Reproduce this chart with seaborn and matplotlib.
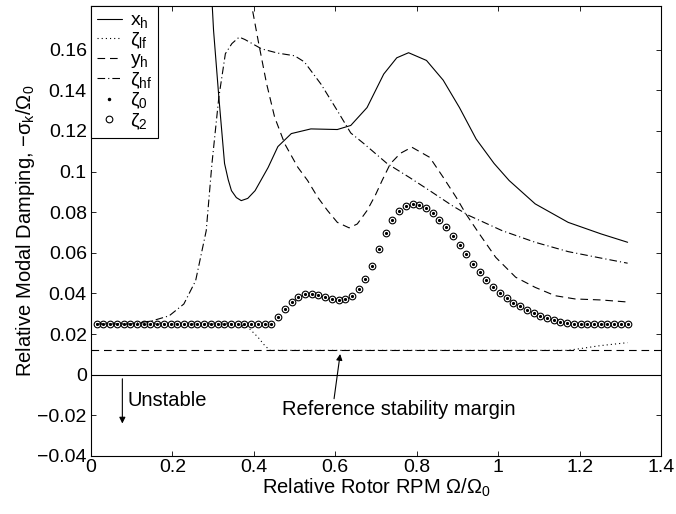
import numpy as np
import matplotlib
matplotlib.use("Agg")
import matplotlib.pyplot as plt
from matplotlib.lines import Line2D
import seaborn as sns

# ---------------- data ----------------
xh_x = [0.285, 0.301, 0.314, 0.328, 0.337, 0.345, 0.357, 0.369, 0.385, 0.403, 0.435, 0.459,
        0.492, 0.540, 0.605, 0.638, 0.678, 0.719, 0.751, 0.780, 0.824, 0.865, 0.905, 0.946,
        0.990, 1.027, 1.091, 1.172, 1.253, 1.318]
xh_y = [0.230, 0.1695, 0.1366, 0.104, 0.096, 0.0906, 0.0872, 0.0857, 0.0868, 0.0906, 0.102, 0.1123,
        0.1187, 0.121, 0.1207, 0.1227, 0.1315, 0.148, 0.156, 0.1585, 0.1547, 0.145, 0.1315, 0.116,
        0.104, 0.0956, 0.0841, 0.075, 0.0693, 0.0652]

yh_x = [0.385, 0.3946, 0.411, 0.431, 0.451, 0.476, 0.508, 0.532, 0.557, 0.581, 0.605, 0.634,
        0.654, 0.678, 0.698, 0.715, 0.735, 0.760, 0.788, 0.832, 0.865, 0.897, 0.921, 0.954,
        0.994, 1.043, 1.091, 1.140, 1.189, 1.253, 1.318]
yh_y = [0.195, 0.1817, 0.164, 0.1435, 0.1268, 0.1136, 0.1021, 0.0956, 0.0873, 0.0808, 0.075, 0.0723,
        0.0742, 0.0808, 0.0882, 0.0956, 0.1038, 0.109, 0.112, 0.107, 0.0972, 0.0873, 0.0791, 0.0693,
        0.0578, 0.048, 0.043, 0.0389, 0.0373, 0.0368, 0.0358]

zhf_x = [0.0138, 0.100, 0.1515, 0.192, 0.228, 0.257, 0.283, 0.297, 0.314, 0.330, 0.346, 0.364,
         0.378, 0.419, 0.459, 0.500, 0.524, 0.565, 0.605, 0.638, 0.670, 0.727, 0.783, 0.832,
         0.889, 0.929, 1.010, 1.091, 1.172, 1.253, 1.318]
zhf_y = [0.025, 0.025, 0.0266, 0.029, 0.0348, 0.0463, 0.0709, 0.1038, 0.1366, 0.158, 0.163, 0.1662,
         0.165, 0.1604, 0.1583, 0.157, 0.154, 0.143, 0.130, 0.119, 0.1138, 0.104, 0.097, 0.0906,
         0.083, 0.0783, 0.0709, 0.0652, 0.0606, 0.0574, 0.0549]

zlf_x = [0.0138, 0.360, 0.386, 0.410, 0.427, 0.440, 1.170, 1.200, 1.250, 1.318]
zlf_y = [0.025, 0.025, 0.0233, 0.0185, 0.0143, 0.012, 0.012, 0.0128, 0.0143, 0.0158]

zeta_x = np.linspace(0.0138, 1.318, 80)
zeta_y = ([0.025] * 27 +
          [0.0282, 0.0323, 0.0358, 0.0384, 0.0396, 0.0396, 0.0391, 0.0381, 0.0373, 0.0368,
           0.0373, 0.0389, 0.042, 0.047, 0.0535, 0.0617, 0.0698, 0.0760, 0.0806, 0.0832,
           0.0840, 0.0837, 0.0823, 0.0796, 0.0764, 0.0725, 0.0682, 0.0638, 0.0593, 0.0547,
           0.0506, 0.0466, 0.0432, 0.0402, 0.0377, 0.0355, 0.0337, 0.0319, 0.0302, 0.0289,
           0.0279, 0.0269, 0.0261, 0.0253] +
          [0.025] * 9)

ref_margin = 0.012
xticks = [0, 0.2, 0.4, 0.6, 0.8, 1.0, 1.2, 1.4]
yticks = [-0.04, -0.02, 0, 0.02, 0.04, 0.06, 0.08, 0.1, 0.12, 0.14, 0.16]
legend_labels = [r'$\mathregular{x_h}$', r'$\mathregular{ζ_{lf}}$', r'$\mathregular{y_h}$',
                 r'$\mathregular{ζ_{hf}}$', r'$\mathregular{ζ_0}$', r'$\mathregular{ζ_2}$']

# ---------------- style ----------------
sns.set_style("ticks")
plt.rcParams['font.family'] = ['Liberation Sans', 'DejaVu Sans']
plt.rcParams['mathtext.fontset'] = 'custom'
plt.rcParams['mathtext.rm'] = 'Liberation Sans'
plt.rcParams['mathtext.it'] = 'Liberation Sans:italic'
plt.rcParams['lines.scale_dashes'] = False
plt.rcParams['axes.linewidth'] = 0.8
plt.rcParams['axes.edgecolor'] = 'k'
plt.rcParams['text.color'] = 'k'
plt.rcParams['axes.labelcolor'] = 'k'
plt.rcParams['xtick.color'] = 'k'
plt.rcParams['ytick.color'] = 'k'

FS = 14.5
TFS = 14
LW = 0.8
DASHED = (0, (5.5, 3.5))
DASHDOT = (0, (5.5, 2.2, 0.8, 2.2))
DOTTED = (0, (0.8, 2.2))

fig = plt.figure(figsize=(6.76, 5.14), dpi=100)
ax = fig.add_axes([91 / 676, 1 - 456 / 514, (661 - 91) / 676, (456 - 6) / 514])

def line(x, y, ls):
    sns.lineplot(x=x, y=y, ax=ax, color='k', lw=LW, estimator=None, sort=False)
    ax.lines[-1].set_linestyle(ls)

line(xh_x, xh_y, '-')
line(zlf_x, zlf_y, DOTTED)
line(yh_x, yh_y, DASHED)
line(zhf_x, zhf_y, DASHDOT)
sns.lineplot(x=zeta_x, y=zeta_y, ax=ax, estimator=None, sort=False, linestyle='',
             marker='.', ms=3, mec='k', mfc='k', color='k')
sns.lineplot(x=zeta_x, y=zeta_y, ax=ax, estimator=None, sort=False, linestyle='',
             marker='o', ms=4.8, mec='k', mfc='none', mew=0.8, color='k')

ax.axhline(0, color='k', lw=LW)
ax.axhline(ref_margin, color='k', lw=LW, linestyle=DASHED)

ax.set_xlim(0, 1.4)
ax.set_ylim(-0.04, 0.1815)
ax.set_xticks(xticks)
ax.set_yticks(yticks)
ax.set_xticklabels([f"{v:g}" for v in xticks])
ax.set_yticklabels([f"{v:g}".replace('-', '\u2212') for v in yticks])
ax.tick_params(direction='in', length=3.6, width=0.6, top=True, right=True,
               labelsize=TFS, colors='k')
ax.tick_params(axis='x', pad=2)
ax.tick_params(axis='y', pad=3)
for s in ax.spines.values():
    s.set_visible(True)
    s.set_linewidth(LW)
    s.set_color('k')

ax.set_xlabel(r'Relative Rotor RPM $\mathregular{Ω/Ω_0}$', fontsize=FS, color='k')
ax.set_ylabel(r'Relative Modal Damping, $\mathregular{-σ_k/Ω_0}$', fontsize=FS, color='k')
ax.xaxis.set_label_coords(0.5, -0.045)
ax.yaxis.set_label_coords(-0.094, 0.5)

# annotations
ax.annotate('', xy=(0.077, -0.024), xytext=(0.077, -0.002),
            arrowprops=dict(arrowstyle='-|>', color='k', lw=LW, mutation_scale=9,
                            shrinkA=0, shrinkB=0))
ax.text(0.09, -0.0126, 'Unstable', fontsize=FS, va='center', ha='left', color='k')
ax.annotate('', xy=(0.612, 0.0102), xytext=(0.597, -0.0118),
            arrowprops=dict(arrowstyle='-|>', color='k', lw=LW, mutation_scale=9,
                            shrinkA=0, shrinkB=0))
ax.text(0.469, -0.0172, 'Reference stability margin', fontsize=FS, va='center', ha='left',
        color='k')

# legend
handles = [
    Line2D([], [], color='k', lw=LW, linestyle='-'),
    Line2D([], [], color='k', lw=LW, linestyle=DOTTED),
    Line2D([], [], color='k', lw=LW, linestyle=DASHED),
    Line2D([], [], color='k', lw=LW, linestyle=DASHDOT),
    Line2D([], [], color='k', linestyle='', marker='.', ms=3),
    Line2D([], [], color='k', linestyle='', marker='o', ms=4.8, mfc='none', mew=0.8),
]
leg = ax.legend(handles, legend_labels, loc='upper left', bbox_to_anchor=(0, 1),
                borderaxespad=0, fancybox=False, edgecolor='k', framealpha=1,
                handlelength=1.3, handletextpad=0.4, labelspacing=0.0, borderpad=0.3,
                fontsize=14)
leg.get_frame().set_linewidth(LW)
for t in leg.get_texts():
    t.set_color('k')

fig.savefig('out.png', dpi=100)
